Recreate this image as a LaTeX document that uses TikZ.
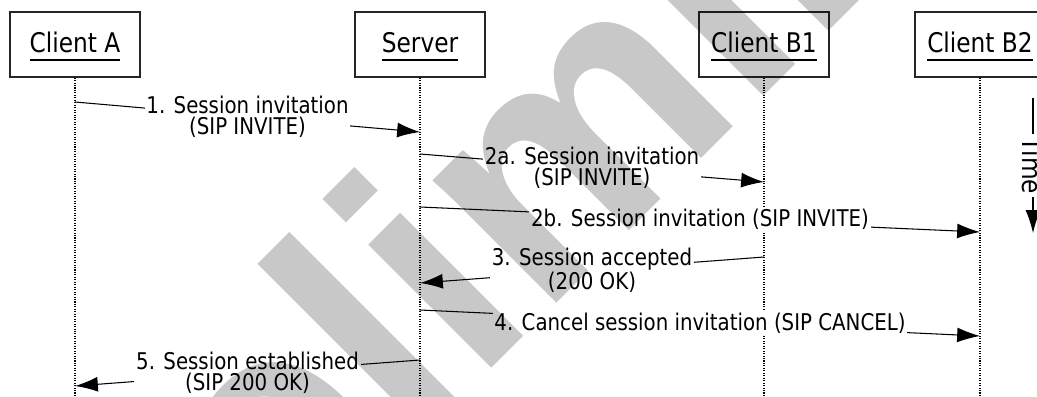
\documentclass[tikz,border=0pt]{standalone}
\usepackage{fontspec}
\setmainfont{DejaVu Sans}[FakeStretch=0.86]
\newfontfamily\wmfont{Liberation Sans}
\usetikzlibrary{arrows.meta}
\usepackage{xcolor}

\definecolor{wmgray}{RGB}{200,200,200}
\newcommand{\ultext}[1]{\setbox0=\hbox{#1}\rlap{\smash{\rule[-4.6pt]{\wd0}{0.9pt}}}\box0}

\begin{document}
\begin{tikzpicture}[x=0.02cm, y=-0.02cm,
	actor/.style={draw=black!85, line width=0.7pt, minimum width=2.6cm, minimum height=1.3cm, inner sep=0pt, text depth=2.3pt, font=\fontsize{15.4}{18}\selectfont},
	life/.style={line width=0.6pt, dash pattern=on 0.6pt off 0.8pt},
	msg/.style={line width=0.6pt, -{Latex[length=13pt,width=8.5pt]}},
	lbl/.style={fill=white, inner sep=1pt, align=center, font=\fontsize{13.1}{12}\selectfont}]
	\useasboundingbox (0,0) rectangle (1037,396);
	\clip (0,0) rectangle (1037,396);
	
	% participants
	\node[actor] (ca) at (75,44.5) {\ultext{Client A}};
	\node[actor] (sv) at (420,44.5) {\ultext{Server}};
	\node[actor] (cb1) at (764,44.5) {\ultext{Client B1}};
	\node[actor] (cb2) at (980,44.5) {\ultext{Client B2}};
	
	\coordinate (caE) at (75,396);
	\coordinate (svE) at (420,396);
	\coordinate (cb1E) at (764,396);
	\coordinate (cb2E) at (980,396);
	
	\draw[life] (ca) -- (caE);
	\draw[life] (sv) -- (svE);
	\draw[life] (cb1) -- (cb1E);
	\draw[life] (cb2) -- (cb2E);
	
	% messages
	\coordinate (m1s) at (75,102);	\coordinate (m1e) at (420,132);
	\coordinate (m2s) at (420,154);	\coordinate (m2e) at (764,182);
	\coordinate (m3s) at (420,207);	\coordinate (m3e) at (980,232);
	\coordinate (m4s) at (764,257);	\coordinate (m4e) at (420,283);
	\coordinate (m5s) at (420,310);	\coordinate (m5e) at (980,336);
	\coordinate (m6s) at (420,360);	\coordinate (m6e) at (75,386);
	
	\draw[msg] (m1s) -- node[lbl] (l1) {1. Session invitation\\(SIP INVITE)} (m1e);
	\draw[msg] (m2s) -- node[lbl] (l2) {2a. Session invitation\\(SIP INVITE)} (m2e);
	\draw[msg] (m3s) -- node[lbl] (l3) {2b. Session invitation (SIP INVITE)} (m3e);
	\draw[msg] (m4s) -- node[lbl] (l4) {3. Session accepted\\(200 OK)} (m4e);
	\draw[msg] (m5s) -- node[lbl] (l5) {4. Cancel session invitation (SIP CANCEL)} (m5e);
	\draw[msg] (m6s) -- node[lbl] (l6) {5. Session established\\(SIP 200 OK)} (m6e);
	
	% time axis
	\coordinate (t1) at (1033,98);
	\coordinate (t2) at (1033,233);
	\draw[msg] (t1) -- node[lbl, rotate=-90, inner sep=2pt, font=\fontsize{15.4}{18}\selectfont] (tl) {Time} (t2);
	
	% watermark
	\begin{scope}[blend mode=multiply]
		\node[text=wmgray, inner sep=0pt, anchor=base west, rotate=45, font=\wmfont\bfseries\fontsize{187.6}{190}\selectfont] (wm) at (35,825) {Preliminary};
	\end{scope}
\end{tikzpicture}
\end{document}
